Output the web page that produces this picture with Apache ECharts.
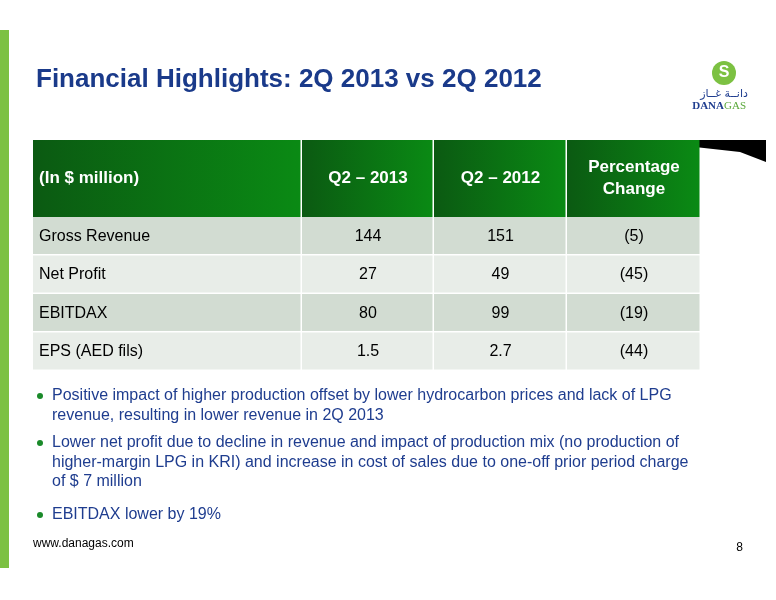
<!DOCTYPE html>
<html>
<head>
<meta charset="utf-8">
<script src="https://cdn.jsdelivr.net/npm/echarts@6/dist/echarts.min.js"></script>
<style>
  html, body { margin: 0; padding: 0; background: #fff; }
  #main { width: 776px; height: 600px; }
</style>
</head>
<body>
<div id="main"></div>
<script>
// table data
var headers = ['(In $ million)', 'Q2 \u2013 2013', 'Q2 \u2013 2012', 'Percentage\nChange'];
var rowLabels = ['Gross Revenue', 'Net Profit', 'EBITDAX', 'EPS (AED fils)'];
var q2013 = ['144', '27', '80', '1.5'];
var q2012 = ['151', '49', '99', '2.7'];
var pctChange = ['(5)', '(45)', '(19)', '(44)'];
var bullets = [
  'Positive impact of higher production offset by lower hydrocarbon prices and lack of LPG\nrevenue, resulting in lower revenue in 2Q 2013',
  'Lower net profit due to decline in revenue and impact of production mix (no production of\nhigher-margin LPG in KRI) and increase in cost of sales due to one-off prior period charge\nof $ 7 million',
  'EBITDAX lower by 19%'
];

var chart = echarts.init(document.getElementById('main'));
var font = 'Liberation Sans, Arial, sans-serif';
var colX = [33, 302, 434, 567, 701];
var headTop = 140, headBottom = 217, rowH = 38.5;
var blue = '#1f3d8f';

var els = [];
// left green bar
els.push({ type: 'rect', shape: { x: 0, y: 30, width: 9, height: 538 }, style: { fill: '#7cc142' } });
// title
els.push({ type: 'text', style: { x: 36, y: 80, text: 'Financial Highlights: 2Q 2013 vs 2Q 2012', fill: '#1a3a8a',
  font: 'bold 26px ' + font, textVerticalAlign: 'middle' } });
// logo
els.push({ type: 'circle', shape: { cx: 724, cy: 73, r: 12 }, style: { fill: '#7cc142' } });
els.push({ type: 'text', style: { x: 724, y: 73, text: 'S', fill: '#fff', font: 'bold 16px ' + font, textAlign: 'center', textVerticalAlign: 'middle' } });
els.push({ type: 'text', style: { x: 724, y: 94, text: 'دانــة غــاز', fill: '#1f3d8f', font: '11px DejaVu Sans', textAlign: 'center', textVerticalAlign: 'middle' } });
els.push({ type: 'text', style: { x: 724, y: 106, text: 'DANA', fill: '#1f3d8f', font: 'bold 11px Liberation Serif', textAlign: 'right', textVerticalAlign: 'middle' } });
els.push({ type: 'text', style: { x: 724, y: 106, text: 'GAS', fill: '#5aa83a', font: '11px Liberation Serif', textAlign: 'left', textVerticalAlign: 'middle' } });
// black wedge
els.push({ type: 'polygon', shape: { points: [[632, 140], [766, 140], [766, 162], [740, 152]] }, style: { fill: '#000' } });

// header cells
headers.forEach(function (h, i) {
  els.push({ type: 'rect', shape: { x: colX[i], y: headTop, width: colX[i + 1] - colX[i] - 1.5, height: headBottom - headTop },
    style: { fill: new echarts.graphic.LinearGradient(0, 0, 1, 0, [{ offset: 0, color: '#0b5a12' }, { offset: 1, color: '#0a8a14' }]) } });
  els.push({ type: 'text', style: { x: i === 0 ? colX[0] + 6 : (colX[i] + colX[i + 1]) / 2, y: (headTop + headBottom) / 2,
    text: h, fill: '#fff', font: 'bold 17px ' + font, textAlign: i === 0 ? 'left' : 'center', textVerticalAlign: 'middle', lineHeight: 22 } });
});
// body rows
rowLabels.forEach(function (lab, r) {
  var y = headBottom + r * rowH;
  var vals = [lab, q2013[r], q2012[r], pctChange[r]];
  vals.forEach(function (v, i) {
    els.push({ type: 'rect', shape: { x: colX[i], y: y, width: colX[i + 1] - colX[i] - 1.5, height: rowH - 1.5 },
      style: { fill: r % 2 === 0 ? '#d2dcd2' : '#e8ede8' } });
    els.push({ type: 'text', style: { x: i === 0 ? colX[0] + 6 : (colX[i] + colX[i + 1]) / 2, y: y + rowH / 2,
      text: v, fill: '#000', font: '16px ' + font, textAlign: i === 0 ? 'left' : 'center', textVerticalAlign: 'middle' } });
  });
});
// bullets
var by = [396, 443, 515];
bullets.forEach(function (b, i) {
  els.push({ type: 'circle', shape: { cx: 40, cy: by[i], r: 3 }, style: { fill: '#1a8a2a' } });
  els.push({ type: 'text', style: { x: 52, y: by[i] - 10, text: b, fill: blue, font: '16px ' + font, lineHeight: 19.5, textVerticalAlign: 'top' } });
});
// footer
els.push({ type: 'text', style: { x: 33, y: 544, text: 'www.danagas.com', fill: '#000', font: '12px ' + font, textVerticalAlign: 'middle' } });
els.push({ type: 'text', style: { x: 743, y: 548, text: '8', fill: '#000', font: '12px ' + font, textAlign: 'right', textVerticalAlign: 'middle' } });

chart.setOption({ animation: false, graphic: { elements: els } });
</script>
</body>
</html>
